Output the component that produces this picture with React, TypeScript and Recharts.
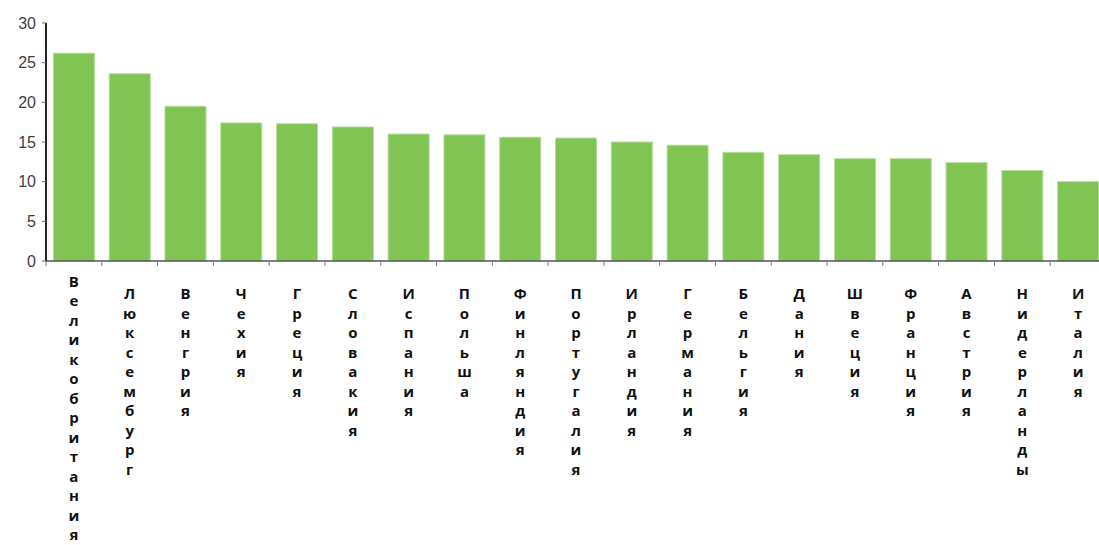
import { BarChart, Bar, XAxis, YAxis } from "recharts";

const countries = [
  "Великобритания",
  "Люксембург",
  "Венгрия",
  "Чехия",
  "Греция",
  "Словакия",
  "Испания",
  "Польша",
  "Финляндия",
  "Португалия",
  "Ирландия",
  "Германия",
  "Бельгия",
  "Дания",
  "Швеция",
  "Франция",
  "Австрия",
  "Нидерланды",
  "Италия",
];

const values = [26.2, 23.6, 19.5, 17.4, 17.3, 16.9, 16.0, 15.9, 15.6, 15.5, 15.0, 14.6, 13.7, 13.4, 12.9, 12.9, 12.4, 11.4, 10.0];

const yTicks = [0, 5, 10, 15, 20, 25, 30];

const data = countries.map((name, i) => ({ name, value: values[i] }));

const CHART_W = 1106;
const CHART_H = 545;
const Y_AXIS_W = 46;
const BAND = (CHART_W - Y_AXIS_W) / countries.length;
const LINE_STEP = 19.5;

// each letter on its own line, like the original's stacked labels
function StackedTick({ x, y, payload }: any) {
  const chars = Array.from(String(payload.value));
  const start = Math.min(y + 38, CHART_H - 5 - (chars.length - 1) * LINE_STEP);
  return (
    <g>
      <line x1={x - BAND / 2} y1={y} x2={x - BAND / 2} y2={y + 5} stroke="#777" strokeWidth={1} />
      <text
        textAnchor="middle"
        fill="#111"
        fontFamily="'Open Sans', sans-serif"
        fontWeight={700}
        fontSize={15}
      >
        {chars.map((c, i) => (
          <tspan key={i} x={x} y={start + i * LINE_STEP}>
            {c}
          </tspan>
        ))}
      </text>
    </g>
  );
}

export default function App() {
  return (
    <div
      style={{
        position: "absolute",
        left: 0,
        top: 0,
        width: 1099,
        height: 545,
        overflow: "hidden",
        background: "#fff",
      }}
    >
      <BarChart
        width={CHART_W}
        height={CHART_H}
        data={data}
        margin={{ top: 23, right: 0, left: 0, bottom: 0 }}
        barCategoryGap="13.3%"
      >
        <XAxis
          dataKey="name"
          interval={0}
          height={284}
          tickLine={false}
          tickSize={0}
          tickMargin={0}
          axisLine={{ stroke: "#555", strokeWidth: 1.5 }}
          tick={<StackedTick />}
        />
        <YAxis
          domain={[0, 30]}
          ticks={yTicks}
          width={Y_AXIS_W}
          tickSize={4}
          tickMargin={6}
          axisLine={{ stroke: "#222", strokeWidth: 2 }}
          tickLine={{ stroke: "#666" }}
          tick={{ fill: "#404040", fontSize: 16, fontFamily: "'Liberation Sans', Arial, sans-serif" }}
        />
        <Bar dataKey="value" fill="#80C453" stroke="#B5DD98" strokeWidth={1} isAnimationActive={false} />
      </BarChart>
    </div>
  );
}
